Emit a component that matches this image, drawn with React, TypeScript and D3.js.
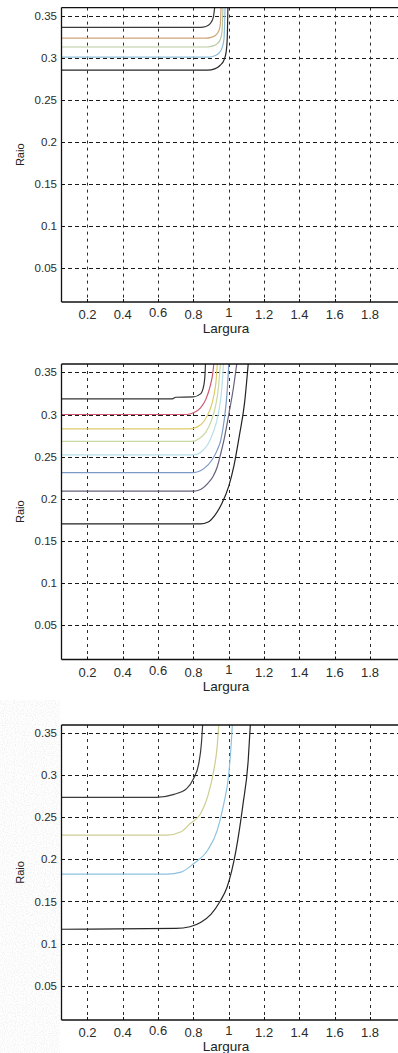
import React, { useRef, useEffect } from 'react';
import * as d3 from 'd3';

// tick values shared by the three panels
const xTicks = [0.2, 0.4, 0.6, 0.8, 1, 1.2, 1.4, 1.6, 1.8];
const yTicks = [0.05, 0.1, 0.15, 0.2, 0.25, 0.3, 0.35];
const xLabel = 'Largura';
const yLabel = 'Raio';

// panel 1 curves [largura, raio]
const p1Black1 = [[0.05, 0.3365], [0.84, 0.3365], [0.87, 0.3375], [0.895, 0.341], [0.912, 0.348], [0.92, 0.36]];
const p1Orange = [[0.05, 0.3235], [0.87, 0.3235], [0.9, 0.3245], [0.925, 0.327], [0.943, 0.332], [0.952, 0.34], [0.956, 0.36]];
const p1Green = [[0.05, 0.313], [0.88, 0.313], [0.91, 0.3143], [0.935, 0.317], [0.952, 0.322], [0.962, 0.332], [0.967, 0.36]];
const p1Blue = [[0.05, 0.301], [0.89, 0.301], [0.92, 0.3025], [0.945, 0.306], [0.962, 0.312], [0.973, 0.323], [0.979, 0.36]];
const p1Black2 = [[0.05, 0.2855], [0.88, 0.2855], [0.92, 0.287], [0.95, 0.291], [0.972, 0.297], [0.985, 0.307], [0.991, 0.322], [0.995, 0.36]];

// panel 2 curves
const p2Black1 = [[0.05, 0.3185], [0.68, 0.3185], [0.7, 0.3205], [0.8, 0.321], [0.84, 0.3245], [0.858, 0.334], [0.866, 0.35], [0.868, 0.36]];
const p2Red = [[0.05, 0.3], [0.76, 0.3], [0.8, 0.302], [0.84, 0.308], [0.87, 0.318], [0.895, 0.334], [0.91, 0.35], [0.915, 0.36]];
const p2Yellow = [[0.05, 0.283], [0.78, 0.283], [0.82, 0.285], [0.86, 0.292], [0.89, 0.304], [0.915, 0.322], [0.928, 0.34], [0.935, 0.36]];
const p2Lime = [[0.05, 0.268], [0.79, 0.268], [0.83, 0.271], [0.87, 0.279], [0.9, 0.292], [0.925, 0.31], [0.943, 0.335], [0.952, 0.36]];
const p2Cyan = [[0.05, 0.252], [0.8, 0.252], [0.84, 0.255], [0.88, 0.264], [0.91, 0.278], [0.94, 0.3], [0.96, 0.33], [0.97, 0.36]];
const p2Blue = [[0.05, 0.231], [0.8, 0.231], [0.86, 0.236], [0.905, 0.246], [0.935, 0.258], [0.955, 0.27], [0.975, 0.295], [0.99, 0.325], [1.0, 0.36]];
const p2Purple = [[0.05, 0.209], [0.8, 0.209], [0.84, 0.211], [0.88, 0.218], [0.91, 0.226], [0.935, 0.238], [0.955, 0.254], [0.975, 0.272], [1.0, 0.3], [1.025, 0.33], [1.045, 0.36]];
const p2Black2 = [[0.05, 0.17], [0.84, 0.17], [0.88, 0.172], [0.92, 0.18], [0.96, 0.194], [1.0, 0.215], [1.03, 0.24], [1.06, 0.275], [1.09, 0.315], [1.11, 0.36]];

// panel 3 curves
const p3Black1 = [[0.05, 0.274], [0.59, 0.274], [0.69, 0.2775], [0.76, 0.284], [0.8, 0.296], [0.83, 0.314], [0.845, 0.338], [0.852, 0.36]];
const p3Yellow = [[0.05, 0.229], [0.65, 0.229], [0.73, 0.233], [0.78, 0.2425], [0.84, 0.2545], [0.88, 0.2745], [0.915, 0.306], [0.934, 0.334], [0.943, 0.36]];
const p3Blue = [[0.05, 0.1825], [0.65, 0.1825], [0.73, 0.185], [0.8, 0.195], [0.88, 0.211], [0.935, 0.235], [0.972, 0.2665], [1.0, 0.302], [1.015, 0.342], [1.02, 0.36]];
const p3Black2 = [[0.05, 0.117], [0.7, 0.118], [0.78, 0.12], [0.84, 0.125], [0.9, 0.135], [0.95, 0.15], [0.99, 0.167], [1.04, 0.21], [1.08, 0.265], [1.11, 0.318], [1.122, 0.36]];

const panel1Curves = [p1Black1, p1Orange, p1Green, p1Blue, p1Black2];
const panel1Colors = ['#3a3a3a', '#cfa77a', '#b9c9a2', '#8fbcd8', '#262626'];
const panel2Curves = [p2Black1, p2Red, p2Yellow, p2Lime, p2Cyan, p2Blue, p2Purple, p2Black2];
const panel2Colors = ['#333333', '#d0566f', '#dccb68', '#c9d9a3', '#b6dfe8', '#7b9ac6', '#66607c', '#222222'];
const panel3Curves = [p3Black1, p3Yellow, p3Blue, p3Black2];
const panel3Colors = ['#3a3a3a', '#cdcd92', '#8cc2e0', '#262626'];

const W = 398;
const H = 1053;
const font = 'Liberation Sans, Arial, sans-serif';

const App = () => {
    const ref = useRef(null);

    useEffect(() => {
        const svg = d3.select(ref.current);
        svg.selectAll('*').remove();

        const defs = svg.append('defs');
        const speck = defs.append('filter').attr('id', 'speck')
            .attr('x', 0).attr('y', 0).attr('width', 1).attr('height', 1);
        speck.append('feTurbulence').attr('type', 'fractalNoise')
            .attr('baseFrequency', 0.9).attr('numOctaves', 1).attr('seed', 4);
        speck.append('feColorMatrix').attr('type', 'matrix')
            .attr('values', '0 0 0 0 0.72  0 0 0 0 0.72  0 0 0 0 0.72  1.2 0 0 0 -0.5');

        svg.append('rect').attr('width', W).attr('height', H).attr('fill', 'white');
        // scanned paper texture at the left of the last panel
        svg.append('rect').attr('x', 0).attr('y', 700).attr('width', 60).attr('height', 353)
            .attr('fill', 'white').attr('filter', 'url(#speck)');

        const x = d3.scaleLinear().domain([0.05, 2]).range([61, 405.4]);

        const panels = [
            { top: 7.6, bottom: 302, curves: panel1Curves, colors: panel1Colors },
            { top: 364, bottom: 659.5, curves: panel2Curves, colors: panel2Colors },
            { top: 725, bottom: 1020, curves: panel3Curves, colors: panel3Colors },
        ];

        const lift = { '0.6': 2, '1': 2.5 };

        panels.forEach(p => {
            const y = d3.scaleLinear().domain([0.009, 0.36]).range([p.bottom, p.top]);
            const g = svg.append('g');

            // grid
            g.selectAll('.hg').data(yTicks).enter().append('line')
                .attr('x1', x.range()[0]).attr('x2', W)
                .attr('y1', d => Math.round(y(d)) + 0.5).attr('y2', d => Math.round(y(d)) + 0.5)
                .attr('stroke', '#1a1a1a').attr('stroke-dasharray', '4,3');
            g.selectAll('.vg').data(xTicks).enter().append('line')
                .attr('x1', d => Math.round(x(d)) + 0.5).attr('x2', d => Math.round(x(d)) + 0.5)
                .attr('y1', p.top).attr('y2', p.bottom)
                .attr('stroke', '#2a2a2a').attr('stroke-dasharray', '3,4');

            const line = d3.line()
                .x(d => x(d[0]))
                .y(d => y(d[1]))
                .curve(d3.curveMonotoneX);

            p.curves.forEach((c, i) => {
                g.append('path')
                    .datum(c)
                    .attr('d', line)
                    .attr('fill', 'none')
                    .attr('stroke', p.colors[i])
                    .attr('stroke-width', 1.2);
            });

            // box
            const x0 = Math.round(x.range()[0]) + 0.5;
            g.append('line').attr('x1', x0).attr('x2', x0).attr('y1', p.top).attr('y2', p.bottom)
                .attr('stroke', '#111').attr('stroke-width', 1.3);
            g.append('line').attr('x1', x0).attr('x2', W).attr('y1', p.bottom).attr('y2', p.bottom)
                .attr('stroke', '#111').attr('stroke-width', 1.3);
            g.append('line').attr('x1', x0).attr('x2', W).attr('y1', p.top).attr('y2', p.top)
                .attr('stroke', '#111').attr('stroke-width', 1.3);

            // inward ticks
            g.selectAll('.yt').data(yTicks).enter().append('line')
                .attr('x1', x0).attr('x2', x0 + 3)
                .attr('y1', d => Math.round(y(d)) + 0.5).attr('y2', d => Math.round(y(d)) + 0.5)
                .attr('stroke', '#111');
            g.selectAll('.xt').data(xTicks).enter().append('line')
                .attr('x1', d => Math.round(x(d)) + 0.5).attr('x2', d => Math.round(x(d)) + 0.5)
                .attr('y1', p.bottom).attr('y2', p.bottom - 3)
                .attr('stroke', '#111');

            // tick labels
            g.selectAll('.yl').data(yTicks).enter().append('text')
                .attr('x', 57).attr('y', d => y(d)).attr('dy', '0.35em')
                .attr('text-anchor', 'end')
                .attr('font-family', font).attr('font-size', 11.5).attr('fill', '#2b2b2b')
                .text(d => String(d));
            g.selectAll('.xl').data(xTicks).enter().append('text')
                .attr('x', d => x(d)).attr('y', d => p.bottom + 17 - (lift[String(d)] || 0))
                .attr('text-anchor', 'middle')
                .attr('font-family', font).attr('font-size', 13).attr('fill', '#2b2b2b')
                .text(d => String(d));

            g.append('text')
                .attr('x', 226).attr('y', p.bottom + 31)
                .attr('text-anchor', 'middle')
                .attr('font-family', font).attr('font-size', 13.5).attr('fill', '#222')
                .text(xLabel);
            g.append('text')
                .attr('transform', `translate(24,${(p.top + p.bottom) / 2}) rotate(-90)`)
                .attr('text-anchor', 'middle')
                .attr('font-family', font).attr('font-size', 11).attr('fill', '#222')
                .text(yLabel);
        });
    }, []);

    return (
        <svg ref={ref} width={W} height={H}
            style={{ position: 'absolute', left: 0, top: 0, display: 'block' }} />
    );
};

export default App;
